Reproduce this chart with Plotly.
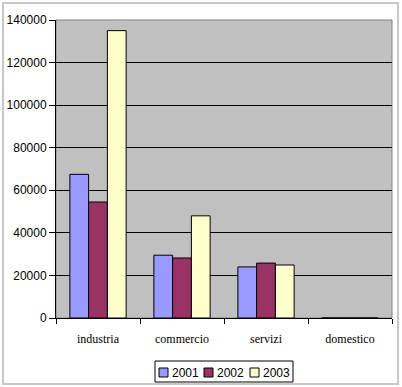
import plotly.graph_objects as go

categories = ["industria", "commercio", "servizi", "domestico"]
years = ["2001", "2002", "2003"]
v2001 = [67500, 29500, 24000, 0]
v2002 = [54500, 28200, 25800, 0]
v2003 = [135000, 48000, 24900, 0]
colors = ["#9999FF", "#993366", "#FFFFCC"]
y_ticks = [0, 20000, 40000, 60000, 80000, 100000, 120000, 140000]

W, H = 402, 387
L, R, T, B = 56, 10, 20, 69
PW, PH = W - L - R, H - T - B


def px(x):
    return (x - L) / PW


def py(y):
    return (H - B - y) / PH


fig = go.Figure()
for name, vals, col in zip(years, [v2001, v2002, v2003], colors):
    fig.add_trace(go.Bar(
        x=categories, y=vals, name=name,
        marker=dict(color=col, line=dict(color="black", width=1)),
    ))

shapes = [
    dict(type="rect", xref="paper", yref="paper", x0=0, x1=1, y0=0, y1=1,
         line=dict(color="#808080", width=1), layer="below"),
    dict(type="rect", xref="paper", yref="paper", x0=px(3), x1=px(398),
         y0=py(384), y1=py(3), line=dict(color="#C8C8C8", width=2)),
    dict(type="rect", xref="paper", yref="paper", x0=px(155), x1=px(293),
         y0=py(382), y1=py(361), line=dict(color="black", width=1),
         fillcolor="white"),
]
annotations = []
sq_x = [159, 204, 250]
for name, col, sx in zip(years, colors, sq_x):
    shapes.append(dict(type="rect", xref="paper", yref="paper",
                       x0=px(sx), x1=px(sx + 9), y0=py(377), y1=py(368),
                       line=dict(color="black", width=1), fillcolor=col))
    annotations.append(dict(text=name, xref="paper", yref="paper",
                            x=px(sx + 11), y=py(372.5), xanchor="left",
                            yanchor="middle", showarrow=False,
                            font=dict(family="Arial, Liberation Sans", size=12,
                                      color="black")))

fig.update_layout(
    width=W, height=H,
    margin=dict(l=L, r=R, t=T, b=B, autoexpand=False),
    paper_bgcolor="white",
    plot_bgcolor="#C0C0C0",
    barmode="group",
    bargap=0.33, bargroupgap=0,
    showlegend=False,
    font=dict(family="Arial, Liberation Sans", size=12, color="black"),
    xaxis=dict(
        type="category", tickson="boundaries", ticks="outside", ticklen=5,
        tickcolor="black", showline=True, linecolor="black", linewidth=1,
        showgrid=False, ticklabelstandoff=10, automargin=False,
        tickfont=dict(family="Liberation Serif, Times New Roman, serif", size=12,
                      color="black"),
    ),
    yaxis=dict(
        range=[0, 140000], tickvals=y_ticks, ticktext=[str(t) for t in y_ticks],
        ticks="outside", ticklen=6, tickcolor="black", automargin=False,
        showline=True, linecolor="black", linewidth=1,
        showgrid=True, gridcolor="black", gridwidth=1, zeroline=False,
        tickfont=dict(family="Arial, Liberation Sans", size=12, color="black"),
    ),
    shapes=shapes,
    annotations=annotations,
)

fig.write_html("out.html", config={"displayModeBar": False},
               post_script="document.body.style.margin='0';document.body.style.overflow='hidden';")
